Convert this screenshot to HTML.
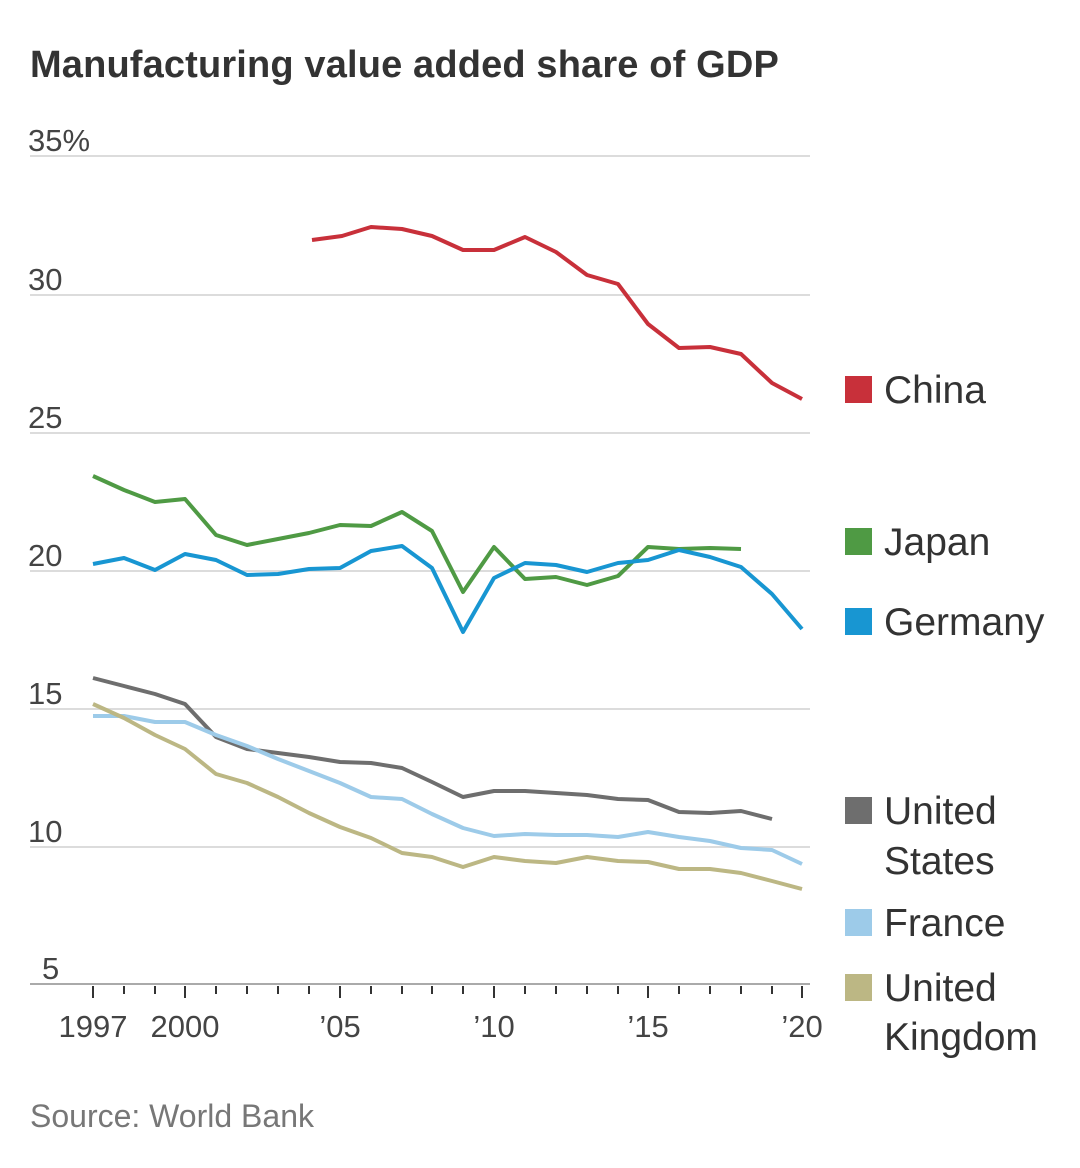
<!DOCTYPE html>
<html><head><meta charset="utf-8"><style>
html,body{margin:0;padding:0;background:#fff;}
body{width:1080px;height:1163px;overflow:hidden;font-family:"Liberation Sans",sans-serif;}
</style></head><body>
<svg width="1080" height="1163" xmlns="http://www.w3.org/2000/svg" font-family="Liberation Sans, sans-serif">
<text x="30" y="77" font-size="38" font-weight="bold" fill="#333" letter-spacing="0.15">Manufacturing value added share of GDP</text>
<g stroke="#dcdcdc" stroke-width="2">
<line x1="30" y1="156" x2="810" y2="156"/>
<line x1="30" y1="295" x2="810" y2="295"/>
<line x1="30" y1="433" x2="810" y2="433"/>
<line x1="30" y1="571" x2="810" y2="571"/>
<line x1="30" y1="709" x2="810" y2="709"/>
<line x1="30" y1="847" x2="810" y2="847"/>
</g>
<line x1="30" y1="984" x2="810" y2="984" stroke="#aaa" stroke-width="2"/>
<g fill="#444" font-size="31">
<text x="28" y="151">35%</text>
<text x="28" y="290">30</text>
<text x="28" y="428">25</text>
<text x="28" y="566">20</text>
<text x="28" y="704">15</text>
<text x="28" y="842">10</text>
<text x="42" y="979">5</text>
</g>
<g stroke="#333" stroke-width="2">
<line x1="93" y1="986" x2="93" y2="998"/><line x1="124" y1="986" x2="124" y2="994"/><line x1="155" y1="986" x2="155" y2="994"/>
<line x1="185" y1="986" x2="185" y2="998"/><line x1="216" y1="986" x2="216" y2="994"/><line x1="247" y1="986" x2="247" y2="994"/>
<line x1="278" y1="986" x2="278" y2="994"/><line x1="309" y1="986" x2="309" y2="994"/><line x1="340" y1="986" x2="340" y2="998"/>
<line x1="371" y1="986" x2="371" y2="994"/><line x1="402" y1="986" x2="402" y2="994"/><line x1="432" y1="986" x2="432" y2="994"/>
<line x1="463" y1="986" x2="463" y2="994"/><line x1="494" y1="986" x2="494" y2="998"/><line x1="525" y1="986" x2="525" y2="994"/>
<line x1="556" y1="986" x2="556" y2="994"/><line x1="587" y1="986" x2="587" y2="994"/><line x1="618" y1="986" x2="618" y2="994"/>
<line x1="648" y1="986" x2="648" y2="998"/><line x1="679" y1="986" x2="679" y2="994"/><line x1="710" y1="986" x2="710" y2="994"/>
<line x1="741" y1="986" x2="741" y2="994"/><line x1="772" y1="986" x2="772" y2="994"/><line x1="802" y1="986" x2="802" y2="998"/>
</g>
<g fill="#444" font-size="31" text-anchor="middle">
<text x="93" y="1037">1997</text><text x="185" y="1037">2000</text><text x="340" y="1037">’05</text>
<text x="494" y="1037">’10</text><text x="648" y="1037">’15</text><text x="802" y="1037">’20</text>
</g>
<g fill="none" stroke-width="4" stroke-linejoin="round">
<polyline stroke="#c8303a" points="312,240 342,236 371,227 402,229 432,236 463,250 494,250 525,237 556,252 587,275 618,284 648,324 679,348 710,347 741,354 772,383 802,399"/>
<polyline stroke="#4f9a44" points="93,476 124,490 155,502 185,499 216,535 247,545 278,539 309,533 340,525 371,526 402,512 432,531 463,592 494,547 525,579 556,577 587,585 618,576 648,547 679,549 710,548 741,549"/>
<polyline stroke="#1896d2" points="93,564 124,558 155,570 185,554 216,560 247,575 278,574 309,569 340,568 371,551 402,546 432,568 463,632 494,578 525,563 556,565 587,572 618,563 648,560 679,550 710,557 741,567 772,594 802,629"/>
<polyline stroke="#6e6e6e" points="93,678 124,686 155,694 185,704 216,737 247,749 278,753 309,757 340,762 371,763 402,768 432,782 463,797 494,791 525,791 556,793 587,795 618,799 648,800 679,812 710,813 741,811 772,819"/>
<polyline stroke="#9dcbe9" points="93,716 124,716 155,722 185,722 216,735 247,746 278,759 309,771 340,783 371,797 402,799 432,814 463,828 494,836 525,834 556,835 587,835 618,837 648,832 679,837 710,841 741,848 772,850 802,864"/>
<polyline stroke="#bcb784" points="93,704 124,718 155,735 185,749 216,774 247,783 278,797 309,813 340,827 371,838 402,853 432,857 463,867 494,857 525,861 556,863 587,857 618,861 648,862 679,869 710,869 741,873 772,881 802,889"/>
</g>
<g font-size="39" fill="#333">
<rect x="845" y="376" width="27" height="27" fill="#c8303a"/><text x="884" y="403">China</text>
<rect x="845" y="528" width="27" height="27" fill="#4f9a44"/><text x="884" y="555">Japan</text>
<rect x="845" y="608" width="27" height="27" fill="#1896d2"/><text x="884" y="635">Germany</text>
<rect x="845" y="797" width="27" height="27" fill="#6e6e6e"/><text x="884" y="824">United</text><text x="884" y="874">States</text>
<rect x="845" y="909" width="27" height="27" fill="#9dcbe9"/><text x="884" y="936">France</text>
<rect x="845" y="974" width="27" height="27" fill="#bcb784"/><text x="884" y="1001">United</text><text x="884" y="1050">Kingdom</text>
</g>
<text x="30" y="1127" font-size="32" fill="#777">Source: World Bank</text>
</svg>
</body></html>
